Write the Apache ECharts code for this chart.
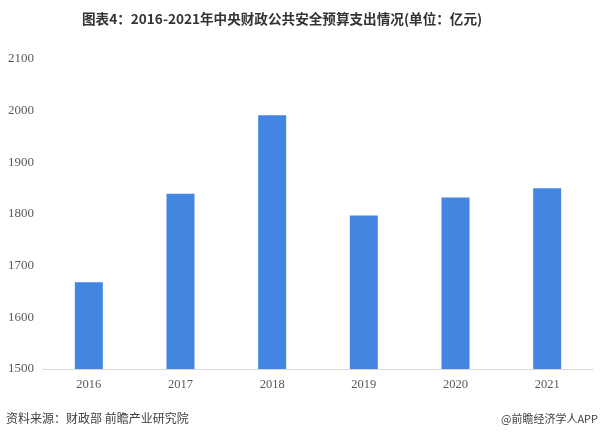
<!DOCTYPE html>
<html>
<head>
<meta charset="utf-8">
<script src="https://cdn.jsdelivr.net/npm/echarts@6/dist/echarts.min.js"></script>
<style>
  html, body { margin: 0; padding: 0; background: #fff; }
  #chart { width: 600px; height: 437px; }
</style>
</head>
<body>
<div id="chart"></div>
<script>
// 年份
const years = ['2016', '2017', '2018', '2019', '2020', '2021'];
// 中央财政公共安全预算支出（亿元）
const spending = [1668, 1839, 1991, 1797, 1832, 1850];

const chart = echarts.init(document.getElementById('chart'));

const option = {
  backgroundColor: '#fff',
  animation: false,
  title: {
    text: '图表4：2016-2021年中央财政公共安全预算支出情况(单位：亿元)',
    left: 77,
    top: 7,
    textStyle: {
      fontFamily: 'Noto Sans CJK SC',
      fontSize: 13.6,
      fontWeight: 'bold',
      color: '#333'
    }
  },
  grid: {
    left: 43,
    right: 7,
    top: 59,
    bottom: 68
  },
  xAxis: {
    type: 'category',
    data: years,
    axisLine: { lineStyle: { color: '#d9d9d9' } },
    axisTick: { show: false },
    axisLabel: {
      color: '#595959',
      fontFamily: 'Liberation Serif',
      fontSize: 12.5,
      margin: 9
    }
  },
  yAxis: {
    type: 'value',
    min: 1500,
    max: 2100,
    interval: 100,
    axisLine: { show: false },
    axisTick: { show: false },
    splitLine: { show: false },
    axisLabel: {
      color: '#595959',
      fontFamily: 'Liberation Serif',
      fontSize: 13,
      margin: 9,
      formatter: v => String(v)
    }
  },
  series: [
    {
      type: 'bar',
      data: spending,
      barWidth: 28,
      itemStyle: { color: '#4386e2' }
    }
  ],
  graphic: [
    {
      type: 'text',
      left: 6,
      top: 412,
      style: {
        text: '资料来源：财政部 前瞻产业研究院',
        fontFamily: 'Noto Sans CJK SC',
        fontSize: 12,
        fill: '#404040'
      }
    },
    {
      type: 'text',
      right: 2,
      top: 413,
      style: {
        text: '@前瞻经济学人APP',
        fontFamily: 'Noto Sans CJK SC',
        fontSize: 11,
        fill: '#404040'
      }
    }
  ]
};

chart.setOption(option);
</script>
</body>
</html>
